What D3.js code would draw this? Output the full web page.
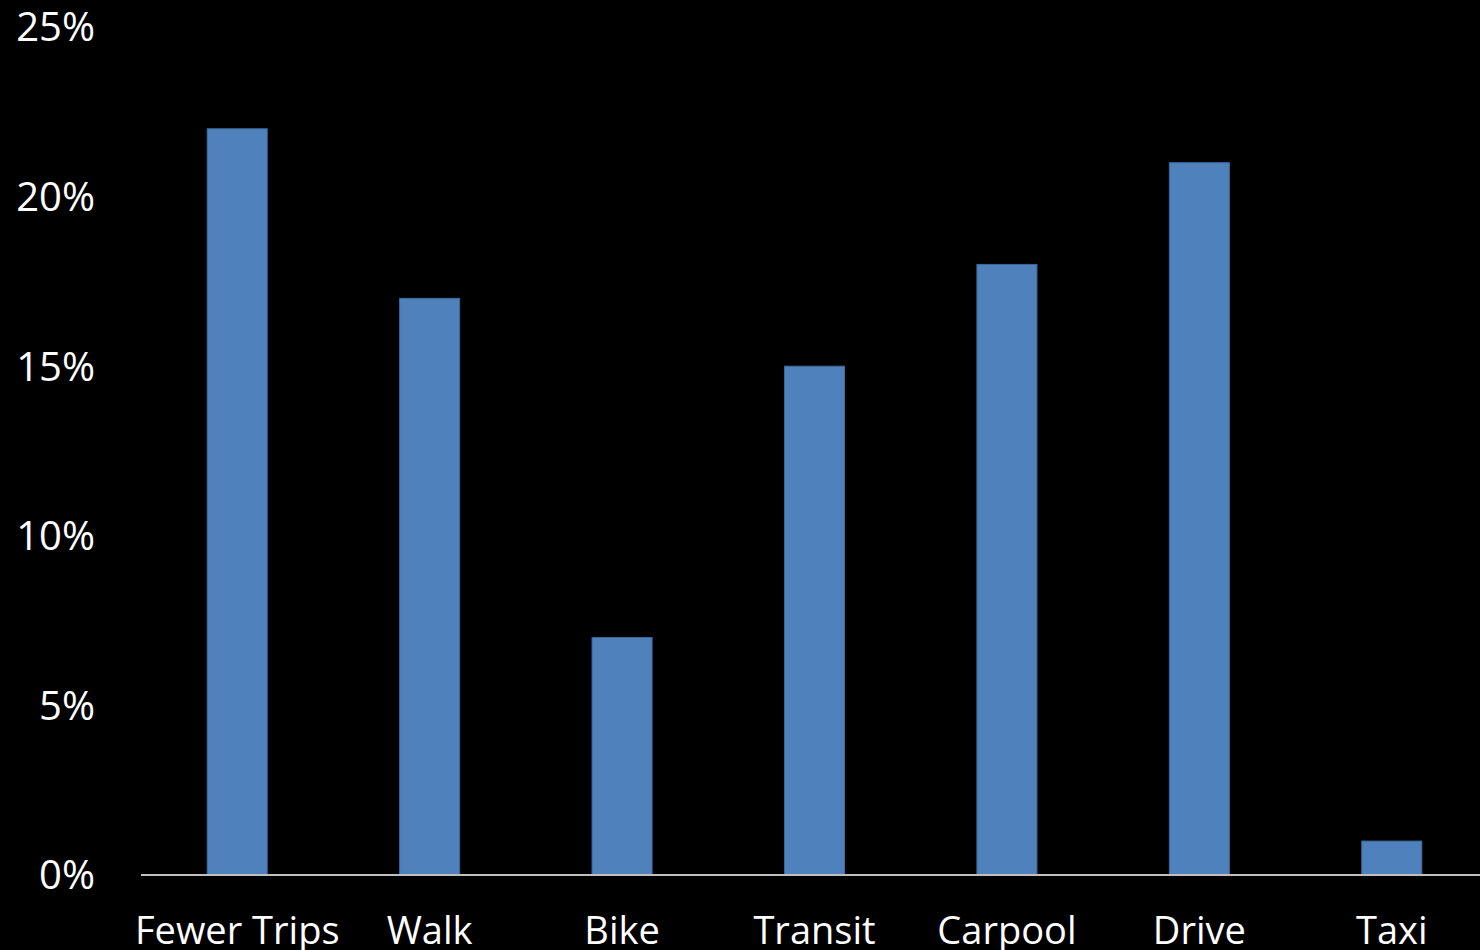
<!DOCTYPE html>
<html>
<head>
<meta charset="utf-8">
<script src="https://cdn.jsdelivr.net/npm/d3@7"></script>
<style>
	html, body { margin: 0; padding: 0; background: #000; overflow: hidden; }
	text { font-family: "Open Sans", "DejaVu Sans", sans-serif; fill: #fff; }
</style>
</head>
<body>
<svg id="chart" width="1480" height="950"></svg>
<script>
var categories = ["Fewer Trips", "Walk", "Bike", "Transit", "Carpool", "Drive", "Taxi"];
var shares = [22, 17, 7, 15, 18, 21, 1];
var yTicks = [0, 5, 10, 15, 20, 25];

var svg = d3.select("#chart");
var plot = {left: 141, right: 1488, top: 27, base: 875};

var x = d3.scaleBand()
	.domain(categories)
	.range([plot.left, plot.right])
	.paddingInner(0.688)
	.paddingOuter(0.344);

var y = d3.scaleLinear()
	.domain([0, 25])
	.range([plot.base, plot.top]);

// bars
svg.selectAll(".bar")
	.data(categories)
	.enter().append("rect")
	.attr("class", "bar")
	.attr("x", function(d) { return x(d); })
	.attr("y", function(d, i) { return y(shares[i]); })
	.attr("width", x.bandwidth())
	.attr("height", function(d, i) { return y(0) - y(shares[i]); })
	.attr("fill", "#4f81bd")
	.attr("stroke", "#3d6a9c")
	.attr("stroke-width", 1);

// baseline
svg.append("line")
	.attr("x1", plot.left)
	.attr("x2", 1480)
	.attr("y1", y(0))
	.attr("y2", y(0))
	.attr("stroke", "#bfbfbf")
	.attr("stroke-width", 2);

// y labels
svg.selectAll(".ylab")
	.data(yTicks)
	.enter().append("text")
	.attr("class", "ylab")
	.attr("x", 95)
	.attr("y", function(d) { return y(d); })
	.attr("dy", "0.36em")
	.attr("text-anchor", "end")
	.style("font-size", "40px")
	.text(function(d) { return d + "%"; });

// x labels
svg.selectAll(".xlab")
	.data(categories)
	.enter().append("text")
	.attr("class", "xlab")
	.attr("x", function(d) { return x(d) + x.bandwidth() / 2; })
	.attr("y", 944)
	.attr("text-anchor", "middle")
	.style("font-size", "38px")
	.text(function(d) { return d; });
</script>
</body>
</html>
